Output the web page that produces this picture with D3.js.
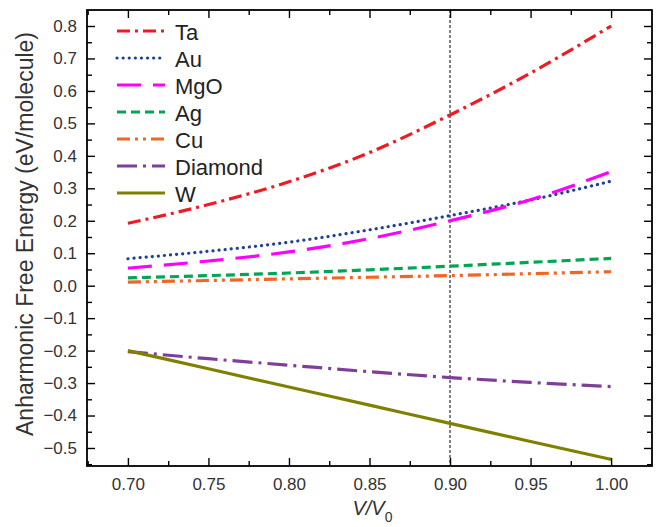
<!DOCTYPE html>
<html>
<head>
<meta charset="utf-8">
<script src="https://cdn.jsdelivr.net/npm/d3@7"></script>
<style>
  body { margin: 0; background: #fff; }
  text { font-family: "Liberation Sans", Arial, sans-serif; }
</style>
</head>
<body>
<svg id="chart" width="658" height="527"></svg>
<script>
// data
const volumes = [0.70, 0.75, 0.80, 0.85, 0.90, 0.95, 1.00];
const ta      = [0.192, 0.250, 0.320, 0.410, 0.526, 0.655, 0.800];
const au      = [0.083, 0.106, 0.134, 0.172, 0.216, 0.264, 0.322];
const mgo     = [0.054, 0.076, 0.104, 0.145, 0.200, 0.265, 0.351];
const ag      = [0.024, 0.031, 0.039, 0.049, 0.060, 0.072, 0.084];
const cu      = [0.011, 0.016, 0.021, 0.026, 0.031, 0.037, 0.043];
const diamond = [-0.203, -0.225, -0.245, -0.265, -0.283, -0.298, -0.311];
const wData   = [-0.200, -0.256, -0.312, -0.368, -0.424, -0.480, -0.535];

const seriesNames = ["Ta", "Au", "MgO", "Ag", "Cu", "Diamond", "W"];
const seriesVals = [ta, au, mgo, ag, cu, diamond, wData];
const colors = ["#ed1c24", "#21409a", "#ff00ff", "#00a651", "#f26522", "#7f3f98", "#808000"];
const dashes = ["13,5,3,5", "0.1,6", "24,12", "9,5", "13,5,3,5,3,5", "20,6,3,6", null];

const xTicks = [0.70, 0.75, 0.80, 0.85, 0.90, 0.95, 1.00];
const yTicks = [-0.5, -0.4, -0.3, -0.2, -0.1, 0.0, 0.1, 0.2, 0.3, 0.4, 0.5, 0.6, 0.7, 0.8];

const svg = d3.select("#chart");
const m = { left: 87, right: 652, top: 10, bottom: 466 };

const x = d3.scaleLinear().domain([0.6746, 1.0254]).range([m.left, m.right]);
const y = d3.scaleLinear().domain([-0.5555, 0.8493]).range([m.bottom, m.top]);

// vertical reference line at 0.90
svg.append("line")
  .attr("x1", x(0.90)).attr("x2", x(0.90))
  .attr("y1", m.top).attr("y2", m.bottom)
  .style("stroke", "#000").style("stroke-width", 1)
  .style("stroke-dasharray", "3,2");

// series lines
const line = d3.line().x((d, i) => x(volumes[i])).y(d => y(d)).curve(d3.curveMonotoneX);
seriesVals.forEach((vals, k) => {
  svg.append("path")
    .datum(vals)
    .attr("d", line)
    .style("fill", "none")
    .style("stroke", colors[k])
    .style("stroke-width", 3.2)
    .style("stroke-linecap", k === 1 ? "round" : "butt")
    .style("stroke-dasharray", dashes[k]);
});

// axes, ticks inward + mirrored
const xMinor = d3.range(0.675, 1.02, 0.05).map(v => +v.toFixed(3));
const yMinor = d3.range(-0.55, 0.85, 0.1).map(v => +v.toFixed(2));

svg.append("g").attr("transform", `translate(0,${m.bottom})`)
  .call(d3.axisBottom(x).tickValues(xTicks).tickSize(-8).tickFormat(d3.format(".2f")).tickPadding(12));
svg.append("g").attr("transform", `translate(0,${m.bottom})`)
  .call(d3.axisBottom(x).tickValues(xMinor).tickSize(-5).tickFormat(""));
svg.append("g").attr("transform", `translate(0,${m.top})`)
  .call(d3.axisTop(x).tickValues(xTicks).tickSize(-8).tickFormat(""));
svg.append("g").attr("transform", `translate(0,${m.top})`)
  .call(d3.axisTop(x).tickValues(xMinor).tickSize(-5).tickFormat(""));

svg.append("g").attr("transform", `translate(${m.left},0)`)
  .call(d3.axisLeft(y).tickValues(yTicks).tickSize(-8).tickFormat(d3.format(".1f")).tickPadding(10));
svg.append("g").attr("transform", `translate(${m.left},0)`)
  .call(d3.axisLeft(y).tickValues(yMinor).tickSize(-5).tickFormat(""));
svg.append("g").attr("transform", `translate(${m.right},0)`)
  .call(d3.axisRight(y).tickValues(yTicks).tickSize(-8).tickFormat(""));
svg.append("g").attr("transform", `translate(${m.right},0)`)
  .call(d3.axisRight(y).tickValues(yMinor).tickSize(-5).tickFormat(""));

svg.selectAll(".domain").remove();
svg.selectAll(".tick line").style("stroke", "#000").style("stroke-width", 1.4);
svg.selectAll(".tick text").style("font-size", "17px").style("fill", "#333")
  .style("font-family", "'Liberation Sans', Arial, sans-serif");

svg.append("rect")
  .attr("x", m.left).attr("y", m.top)
  .attr("width", m.right - m.left).attr("height", m.bottom - m.top)
  .style("fill", "none").style("stroke", "#000").style("stroke-width", 1.8);

// axis titles
svg.append("text")
  .attr("transform", `translate(33,${(m.top + m.bottom) / 2 - 4}) rotate(-90)`)
  .attr("text-anchor", "middle")
  .style("font-size", "23px").style("fill", "#333")
  .text("Anharmonic Free Energy (eV/molecule)");

const xt = svg.append("text")
  .attr("x", x(0.85) + 3).attr("y", 515)
  .attr("text-anchor", "middle")
  .style("font-size", "20px").style("fill", "#333");
xt.append("tspan").style("font-style", "italic").text("V/V");
xt.append("tspan").attr("dy", 7).style("font-size", "14px").text("0");

// legend
const legend = svg.append("g");
seriesNames.forEach((name, k) => {
  const ly = 31 + k * 27;
  legend.append("line")
    .attr("x1", 117).attr("x2", 165).attr("y1", ly).attr("y2", ly)
    .style("stroke", colors[k]).style("stroke-width", 3.2)
    .style("stroke-linecap", k === 1 ? "round" : "butt")
    .style("stroke-dasharray", dashes[k]);
  legend.append("text")
    .attr("x", 175).attr("y", ly + 9)
    .style("font-size", "22px").style("fill", "#222")
    .text(name);
});
</script>
</body>
</html>
